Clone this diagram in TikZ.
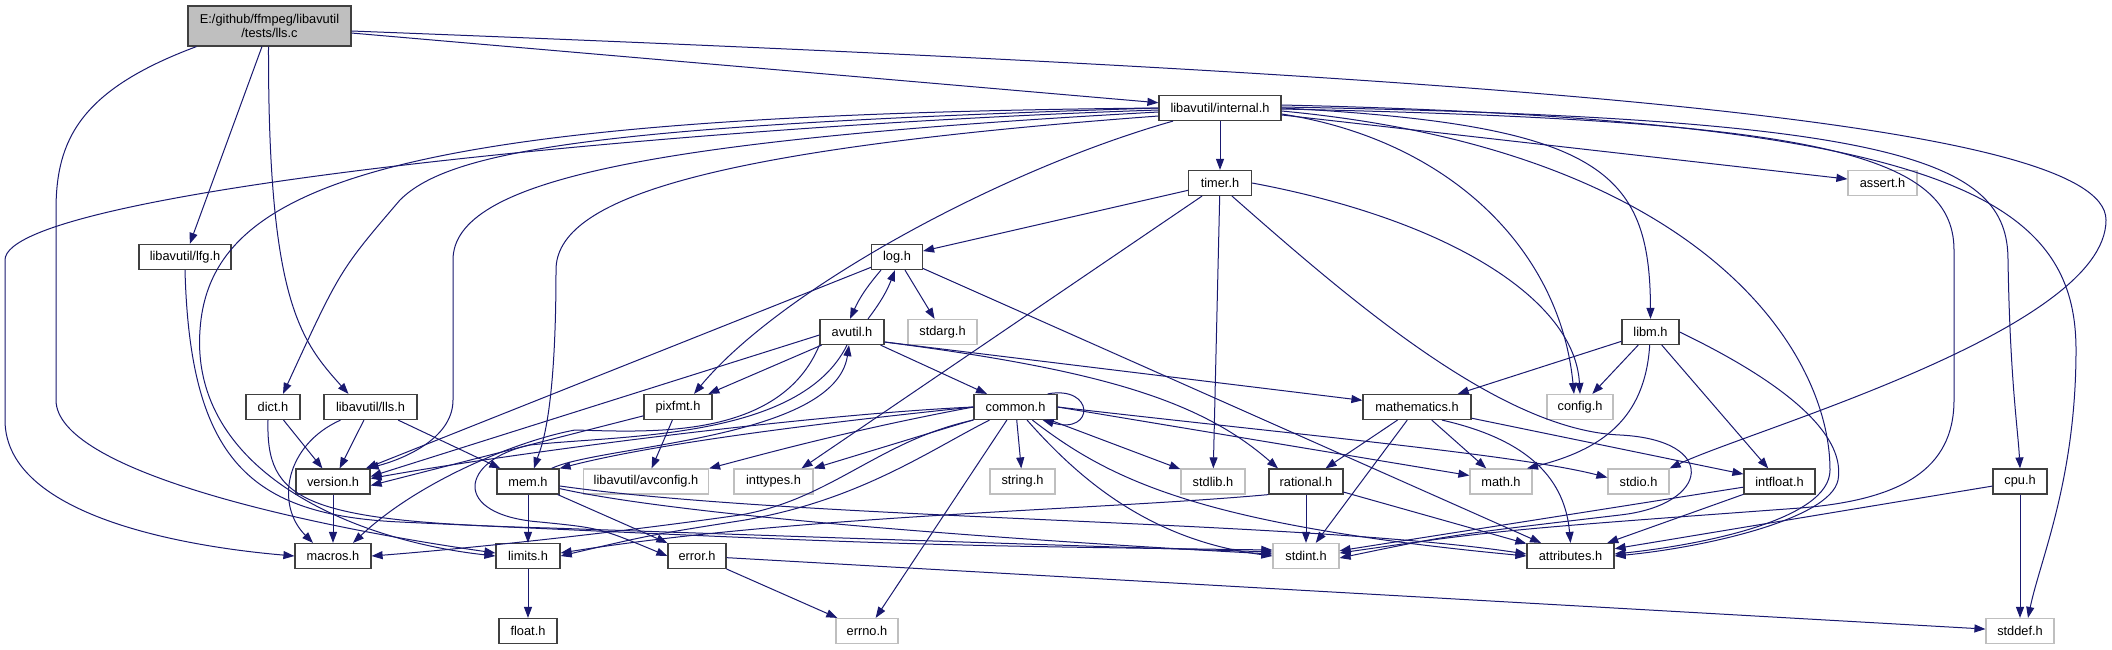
\documentclass[tikz,border=0pt]{standalone}
\usepackage{fontspec}
\setmainfont{Liberation Sans}
\usetikzlibrary{arrows.meta}
\definecolor{edgeblue}{HTML}{191970}
\definecolor{boxgrey}{HTML}{BFBFBF}
\definecolor{boxdark}{HTML}{404040}

\begin{document}
\begin{tikzpicture}[x=1pt, y=-1pt,
        file/.style={draw=boxdark, fill=white, line width=1.2pt, minimum height=25pt, inner sep=0pt,
            font=\fontsize{12.8}{14}\selectfont},
        sysfile/.style={file, draw=boxgrey},
        rootfile/.style={file, fill=boxgrey, align=center, minimum height=40pt},
        inc/.style={draw=edgeblue, line width=1pt, -{Triangle[length=11pt,width=8pt]}}]
        \fill[white] (0,0) rectangle (2112,649);
        \useasboundingbox (0,0) rectangle (2112,649);

        \node[rootfile, minimum width=163pt] (llsc) at (269.5,26) {E:/github/ffmpeg/libavutil\\/tests/lls.c};
        \node[file, minimum width=122pt] (internal) at (1220,108) {libavutil/internal.h};
        \node[file, minimum width=63pt] (timer) at (1220,183) {timer.h};
        \node[sysfile, minimum width=69pt] (assert) at (1882.5,183) {assert.h};
        \node[file, minimum width=92pt] (lfg) at (185,257) {libavutil/lfg.h};
        \node[file, minimum width=51pt] (logh) at (897,257) {log.h};
        \node[file, minimum width=64pt] (avutil) at (852,332) {avutil.h};
        \node[sysfile, minimum width=69pt] (stdarg) at (942.5,332) {stdarg.h};
        \node[file, minimum width=57pt] (libm) at (1650.5,332) {libm.h};
        \node[file, minimum width=54pt] (dict) at (273,407) {dict.h};
        \node[file, minimum width=93pt] (llsh) at (370.5,407) {libavutil/lls.h};
        \node[file, minimum width=68pt] (pixfmt) at (678,407) {pixfmt.h};
        \node[file, minimum width=83pt] (common) at (1015.5,407) {common.h};
        \node[file, minimum width=108pt] (mathematics) at (1417,407) {mathematics.h};
        \node[sysfile, minimum width=66pt] (config) at (1580,407) {config.h};
        \node[file, minimum width=74pt] (version) at (333,481.5) {version.h};
        \node[file, minimum width=62pt] (mem) at (528,481.5) {mem.h};
        \node[sysfile, minimum width=125pt] (avconfig) at (646,481.5) {libavutil/avconfig.h};
        \node[sysfile, minimum width=79pt] (inttypes) at (773.5,481.5) {inttypes.h};
        \node[sysfile, minimum width=65pt] (stringh) at (1022.5,481.5) {string.h};
        \node[sysfile, minimum width=64pt] (stdlib) at (1213,481.5) {stdlib.h};
        \node[file, minimum width=74pt] (rational) at (1306,481.5) {rational.h};
        \node[sysfile, minimum width=62pt] (mathh) at (1501,481.5) {math.h};
        \node[sysfile, minimum width=61pt] (stdio) at (1638.5,481.5) {stdio.h};
        \node[file, minimum width=71pt] (intfloat) at (1779.5,481.5) {intfloat.h};
        \node[file, minimum width=54pt] (cpu) at (2020,481.5) {cpu.h};
        \node[file, minimum width=76pt] (macros) at (333,556) {macros.h};
        \node[file, minimum width=64pt] (limits) at (528,556) {limits.h};
        \node[file, minimum width=58pt] (error) at (697,556) {error.h};
        \node[sysfile, minimum width=66pt] (stdint) at (1306,556) {stdint.h};
        \node[file, minimum width=87pt] (attributes) at (1570.5,556) {attributes.h};
        \node[file, minimum width=58pt] (floath) at (528,631) {float.h};
        \node[sysfile, minimum width=62pt] (errno) at (867,631) {errno.h};
        \node[sysfile, minimum width=68pt] (stddef) at (2020,631) {stddef.h};

        \draw[inc] (llsc) -- (internal);
        \draw[inc] (llsc) -- (lfg);
        \draw[inc] ([xshift=-1]llsc.south) .. controls (268,300) and (300,340) .. ([xshift=-22]llsh.north);
        \draw[inc] ([xshift=9]llsc.south west) .. controls (80,90) and (56,140) .. (56,210) -- (56,400)
            .. controls (56,470) and (300,525) .. ([yshift=3]limits.west);
        \draw[inc] ([yshift=-5]llsc.east) .. controls (1500,75) and (2106,120) .. (2106,220)
            .. controls (2106,330) and (1750,430) .. (stdio.north east);

        \draw[inc] (internal) -- (timer);
        \draw[inc] (internal) -- (assert);
        \draw[inc] ([yshift=-2]internal.west) .. controls (700,125) and (5,190) .. (5,260) -- (5,420)
            .. controls (5,520) and (200,548) .. (macros.west);
        \draw[inc] (internal.west) .. controls (400,115) and (210,180) .. (200,330)
            .. controls (190,470) and (350,540) .. (limits.west);
        \draw[inc] (internal.west) .. controls (600,125) and (450,150) .. (400,200)
            .. controls (340,270) .. ([xshift=10]dict.north);
        \draw[inc] ([yshift=-4]internal.west) .. controls (650,140) and (453,180) .. (453,260) -- (453,400)
            .. controls (453,440) and (400,460) .. ([xshift=-3]version.north east);
        \draw[inc] ([yshift=-8]internal.west) .. controls (700,150) and (556,200) .. (556,270)
            .. controls (556,420) and (540,450) .. ([xshift=6]mem.north);
        \draw[inc] ([xshift=-47]internal.south) .. controls (1000,170) and (780,290) .. ([xshift=16]pixfmt.north);
        \draw[inc] ([yshift=-6]internal.east) .. controls (1450,140) and (1560,250) .. ([xshift=-6]config.north);
        \draw[inc] (internal.east) .. controls (1600,125) and (1650,170) .. (libm.north);
        \draw[inc] ([yshift=-3]internal.east) .. controls (1700,150) and (1830,350) .. (1830,470)
            .. controls (1830,520) and (1700,545) .. ([yshift=2]attributes.east);
        \draw[inc] ([yshift=-1]internal.east) .. controls (1800,120) and (1954,150) .. (1954,250) -- (1954,400)
            .. controls (1954,470) and (1900,500) .. (1800,508) .. controls (1500,530) .. ([yshift=3]stdint.east);
        \draw[inc] ([yshift=1]internal.east) .. controls (1900,118) and (2008,160) .. (2008,260)
            .. controls (2010,380) and (2018,430) .. (cpu.north);
        \draw[inc] ([yshift=3]internal.east) .. controls (1950,120) and (2076,200) .. (2076,350)
            .. controls (2076,480) and (2040,560) .. ([xshift=8]stddef.north);

        \draw[inc] (timer) -- (logh);
        \draw[inc] ([xshift=-18]timer.south) -- ([xshift=28]inttypes.north);
        \draw[inc] (timer) -- (stdlib);
        \draw[inc] (timer.east) .. controls (1450,220) and (1575,300) .. (config.north);
        \draw[inc] ([xshift=12]timer.south) .. controls (1350,300) and (1500,430) .. (1620,435)
            .. controls (1720,440) and (1710,505) .. (1620,515) .. controls (1450,535) .. ([yshift=-2]stdint.east);

        \draw[inc] ([xshift=-16]logh.south) to[bend right=8] ([xshift=-2]avutil.north);
        \draw[inc] ([xshift=16]avutil.north) to[bend right=8] ([xshift=-2]logh.south);
        \draw[inc] ([xshift=8]logh.south) -- (stdarg);
        \draw[inc] (logh) -- (version);
        \draw[inc] (logh) -- (attributes);

        \draw[inc] (avutil) -- (pixfmt);
        \draw[inc] (avutil) -- (common);
        \draw[inc] ([yshift=-10]avutil.east) -- (mathematics);
        \draw[inc] ([yshift=-10]avutil.east) .. controls (1100,370) and (1200,400) .. ([xshift=-28]rational.north);
        \draw[inc] ([yshift=-3]avutil.west) -- ([yshift=5]version.east);
        \draw[inc] (avutil.south west) .. controls (780,440) and (650,432) .. (575,430)
            .. controls (520,440) and (420,480) .. ([xshift=20]macros.north);
        \draw[inc] ([xshift=-5]avutil.south) .. controls (800,440) and (620,435) .. (530,445)
            .. controls (460,460) and (450,515) .. (540,522) .. controls (600,528) .. (error.west);

        \draw[inc] ([xshift=-10]common.north east) .. controls (1095,385) and (1095,435) .. ([xshift=-15]common.south east);
        \draw[inc] (common) -- (stringh);
        \draw[inc] (common) -- (stdlib);
        \draw[inc] (common) -- (inttypes.north east);
        \draw[inc] (common) -- (errno);
        \draw[inc] (common) .. controls (1080,480) and (1150,540) .. (stdint.west);
        \draw[inc] (common) .. controls (1110,480) and (1200,525) .. (attributes.west);
        \draw[inc] (common.east) -- ([yshift=6]mathh.west);
        \draw[inc] (common.east) .. controls (1300,435) and (1520,455) .. ([yshift=4]stdio.west);
        \draw[inc] (common.south west) .. controls (880,440) and (830,500) .. (740,515)
            .. controls (600,535) and (450,550) .. (macros.east);
        \draw[inc] (common) .. controls (930,450) and (860,500) .. (745,520) .. controls (650,535) .. (limits.east);
        \draw[inc] (common.west) .. controls (800,415) and (500,455) .. ([yshift=3]version.east);
        \draw[inc] (common.west) .. controls (850,430) and (760,455) .. (avconfig.north east);
        \draw[inc] (common.west) .. controls (800,425) and (650,445) .. (mem.north east);

        \draw[inc] (mem) -- (limits);
        \draw[inc] (mem) -- (error);
        \draw[inc] (mem) .. controls (700,520) and (1100,545) .. ([yshift=2]stdint.west);
        \draw[inc] (mem) .. controls (800,520) and (1300,520) .. ([yshift=2]attributes.west);
        \draw[inc] ([xshift=-8]mem.north east) .. controls (600,445) and (835,440) .. ([xshift=-3]avutil.south);

        \draw[inc] (error) -- (errno);
        \draw[inc] (error) -- (stddef);

        \draw[inc] (rational) -- (stdint);
        \draw[inc] (rational.south west) .. controls (1100,510) and (800,515) .. ([yshift=3]limits.east);
        \draw[inc] (rational) -- (attributes);

        \draw[inc] (mathematics) -- (rational);
        \draw[inc] (mathematics) -- (stdint);
        \draw[inc] (mathematics) -- (mathh);
        \draw[inc] ([xshift=25]mathematics.south) .. controls (1530,440) and (1565,480) .. (attributes.north);
        \draw[inc] (mathematics) -- (intfloat);

        \draw[inc] (libm) -- (mathematics);
        \draw[inc] (libm) -- (config);
        \draw[inc] (libm) .. controls (1645,420) and (1600,450) .. ([xshift=26]mathh.north);
        \draw[inc] (libm) -- (intfloat);
        \draw[inc] (libm.east) .. controls (1800,390) and (1845,440) .. (1838,480)
            .. controls (1830,520) and (1700,548) .. (attributes.east);

        \draw[inc] (intfloat) -- (stdint);
        \draw[inc] (intfloat) -- (attributes);

        \draw[inc] (cpu) -- (stddef);
        \draw[inc] (cpu) -- (attributes);

        \draw[inc] (llsh) -- (version);
        \draw[inc] ([xshift=-30]llsh.south) .. controls (285,445) and (275,505) .. ([xshift=-20]macros.north);
        \draw[inc] (llsh) -- (mem);

        \draw[inc] (dict) -- (version);
        \draw[inc] ([xshift=-5]dict.south) .. controls (266,500) and (300,522) .. (550,528)
            .. controls (900,540) .. ([yshift=4]stdint.west);

        \draw[inc] (lfg.south) .. controls (190,460) and (250,515) .. (400,522)
            .. controls (900,545) .. ([yshift=6]stdint.west);

        \draw[inc] (pixfmt) -- (avconfig);
        \draw[inc] (pixfmt) -- ([yshift=-4]version.east);

        \draw[inc] (version) -- (macros);
        \draw[inc] (limits) -- (floath);
    \end{tikzpicture}
\end{document}
